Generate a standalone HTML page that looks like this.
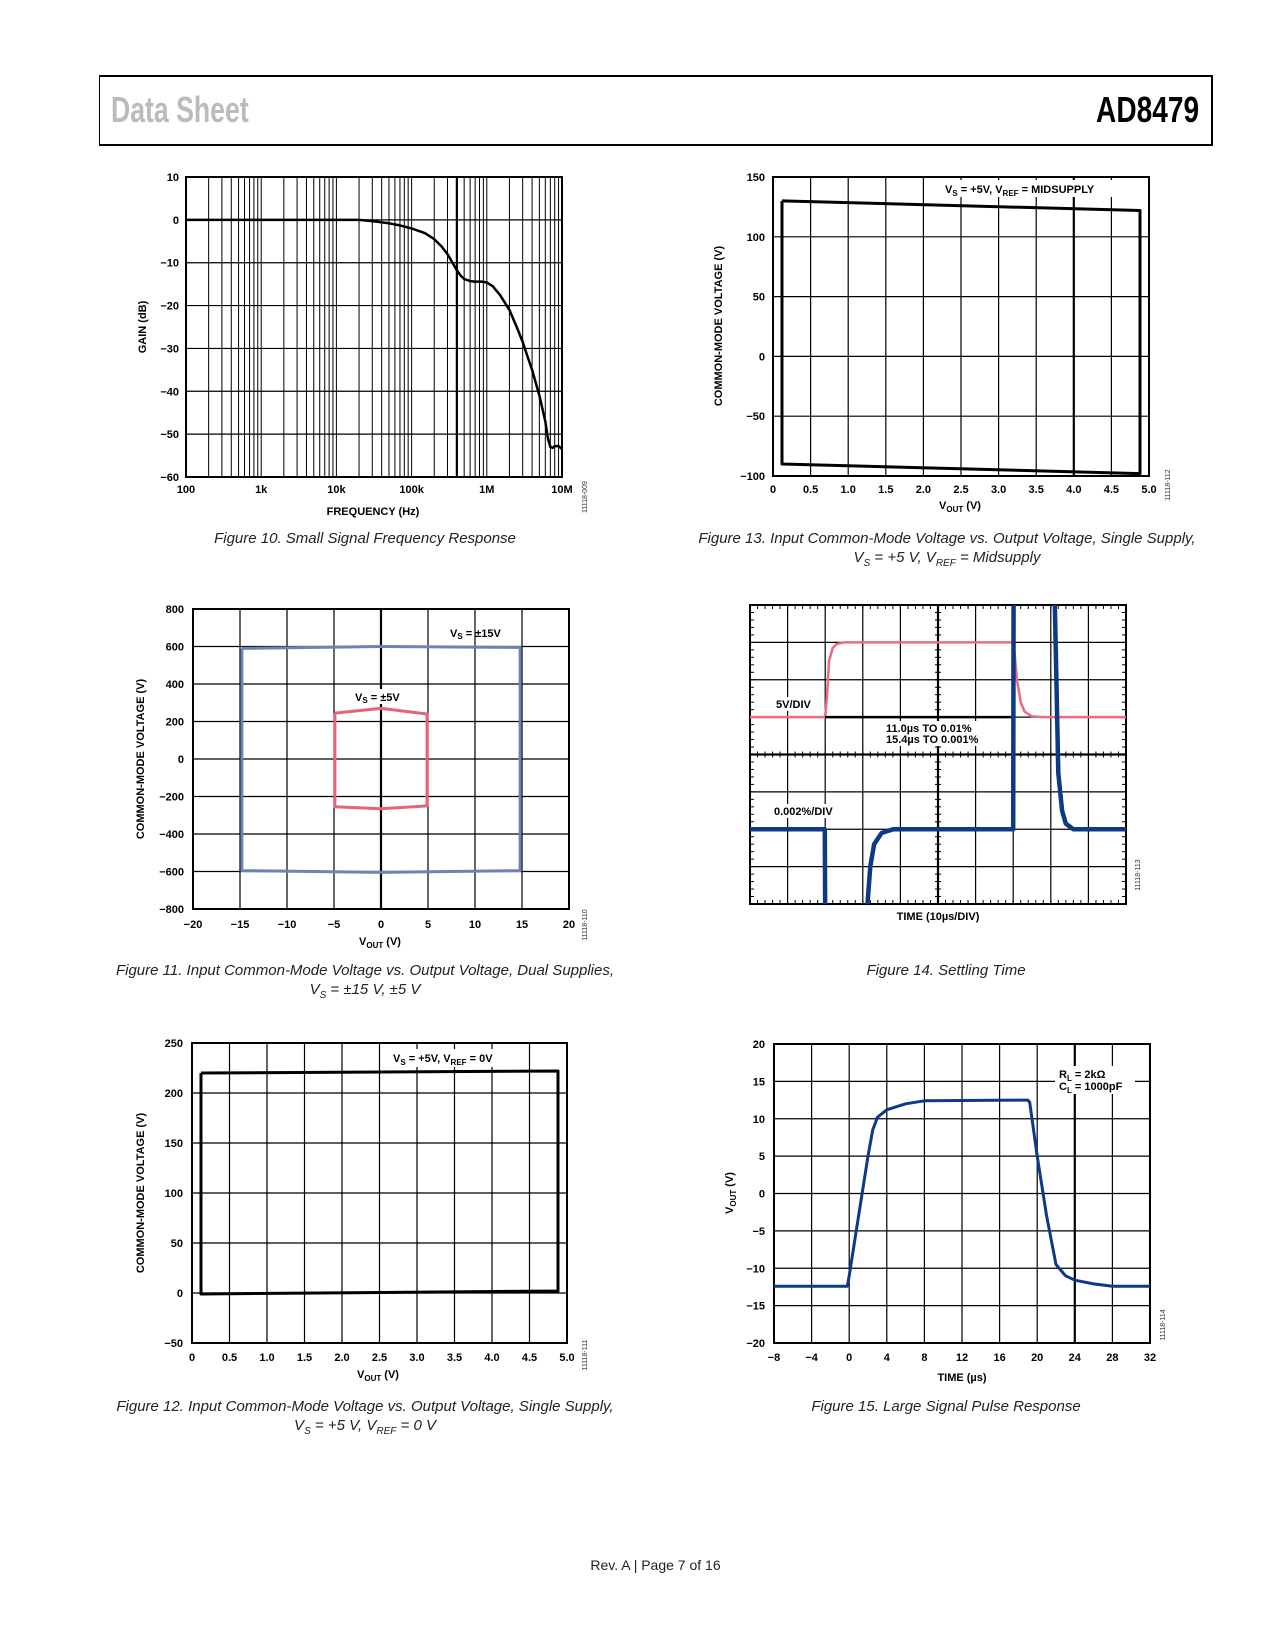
<!DOCTYPE html>
<html><head><meta charset="utf-8">
<style>
body{margin:0;background:#fff;}
#page{position:relative;width:1275px;height:1650px;background:#fff;font-family:"Liberation Sans",sans-serif;}
.cap{position:absolute;font-style:italic;font-size:15px;text-align:center;color:#222;line-height:19px;}
</style></head>
<body>
<div id="page">
<div style="position:absolute;left:99px;top:75px;width:1111px;height:67px;border:2px solid #000;border-left-width:1.5px;"></div>
<div style="position:absolute;left:111px;top:89px;font-size:36px;color:#bbb;font-weight:bold;transform:scaleX(0.74);transform-origin:left top;">Data Sheet</div>
<div style="position:absolute;right:76px;top:89px;font-size:36px;color:#000;font-weight:bold;transform:scaleX(0.78);transform-origin:right top;">AD8479</div>
<svg id="svg" width="1275" height="1650" style="position:absolute;left:0;top:0"></svg>
<div class="cap" style="left:165px;top:529px;width:400px;">Figure 10. Small Signal Frequency Response</div>
<div class="cap" style="left:697px;top:529px;width:500px;">Figure 13. Input Common-Mode Voltage vs. Output Voltage, Single Supply,<br>V<sub style="font-size:10px">S</sub> = +5 V, V<sub style="font-size:10px">REF</sub> = Midsupply</div>
<div class="cap" style="left:115px;top:961px;width:500px;">Figure 11. Input Common-Mode Voltage vs. Output Voltage, Dual Supplies,<br>V<sub style="font-size:10px">S</sub> = ±15 V, ±5 V</div>
<div class="cap" style="left:746px;top:961px;width:400px;">Figure 14. Settling Time</div>
<div class="cap" style="left:115px;top:1397px;width:500px;">Figure 12. Input Common-Mode Voltage vs. Output Voltage, Single Supply,<br>V<sub style="font-size:10px">S</sub> = +5 V, V<sub style="font-size:10px">REF</sub> = 0 V</div>
<div class="cap" style="left:746px;top:1397px;width:400px;">Figure 15. Large Signal Pulse Response</div>
<div style="position:absolute;left:18px;width:1275px;top:1557px;text-align:center;font-size:14px;color:#222;">Rev. A | Page 7 of 16</div>
</div>
<script>
// ---- Figure 10 data ----
const f10Freq=[100,300,1000,3000,10000,20000,30000,50000,70000,100000,150000,200000,250000,300000,350000,400000,450000,500000,600000,700000,850000,1000000,1200000,1500000,2000000,2500000,3000000,3500000,4000000,5000000,6000000,6500000,7000000,7500000,8000000,9000000,10000000];
const f10Gain=[0,0,0,0,0,0,-0.3,-0.8,-1.3,-2,-3.1,-4.5,-6.2,-8,-10,-11.8,-13,-13.8,-14.3,-14.4,-14.4,-14.6,-15.5,-17.5,-21,-25,-28.5,-32,-35,-41,-47,-51,-53,-53.2,-52.8,-52.8,-53.5];
const f10YTicks=[10,0,-10,-20,-30,-40,-50,-60];
const f10XTicks=["100","1k","10k","100k","1M","10M"];
// ---- Figure 13 data ----
const f13X=[0.12,4.88,4.88,0.12,0.12];
const f13Y=[130,122,-98,-90,130];
const f13XTicks=["0","0.5","1.0","1.5","2.0","2.5","3.0","3.5","4.0","4.5","5.0"];
const f13YTicks=[150,100,50,0,-50,-100];
// ---- Figure 11 data ----
const f11BlueX=[-14.8,0,14.8,14.8,0,-14.8,-14.8];
const f11BlueY=[590,600,595,-595,-605,-595,590];
const f11PinkX=[-4.9,0,4.9,4.9,0,-4.9,-4.9];
const f11PinkY=[245,270,240,-250,-265,-255,245];
const f11XTicks=[-20,-15,-10,-5,0,5,10,15,20];
const f11YTicks=[800,600,400,200,0,-200,-400,-600,-800];
// ---- Figure 12 data ----
const f12X=[0.12,4.88,4.88,0.12,0.12];
const f12Y=[220,222,2,-1,220];
const f12YTicks=[250,200,150,100,50,0,-50];
// ---- Figure 14 data (time µs, divisions) ----
const f14PinkT=[0,20,20.5,21,22,23,25,70,70.3,71,72,73,75,78,100];
const f14PinkV=[1,1,1.6,2.5,2.85,2.95,3,3,2.8,2,1.4,1.15,1.02,1,1];
const f14BlueT1=[0,19.9,20];
const f14BlueV1=[-2,-2,-4.3];
const f14BlueT2=[31,32,33,35,38,70,70.1];
const f14BlueV2=[-4.3,-3,-2.4,-2.1,-2,-2,4.3];
const f14BlueT3=[81,81.5,82,83,84,86,100];
const f14BlueV3=[4.3,2,-0.5,-1.5,-1.85,-2,-2];
// ---- Figure 15 data ----
const f15T=[-8,-0.2,0,1,2,2.5,3,4,6,8,19,19.2,20,21,22,23,24,26,28,32];
const f15V=[-12.4,-12.4,-11,-3,5,8.5,10.2,11.2,12,12.4,12.5,12.2,5,-3,-9.5,-11,-11.6,-12.1,-12.4,-12.4];
const f15XTicks=[-8,-4,0,4,8,12,16,20,24,28,32];
const f15YTicks=[20,15,10,5,0,-5,-10,-15,-20];

const NS="http://www.w3.org/2000/svg";
const svg=document.getElementById('svg');
function mk(tag,attrs,parent){const e=document.createElementNS(NS,tag);for(const k in attrs)e.setAttribute(k,attrs[k]);(parent||svg).appendChild(e);return e;}
function txt(x,y,s,anchor,parent,size,rot){const t=mk('text',{x:x,y:y,'text-anchor':anchor||'middle','font-size':size||11,'font-weight':'bold','font-family':'Liberation Sans, sans-serif',fill:'#000'},parent);if(rot)t.setAttribute('transform','rotate(-90 '+x+' '+y+')');t.textContent=s;return t;}
function lin(a0,a1,p0,p1){return v=>p0+(v-a0)/(a1-a0)*(p1-p0);}
function poly(xs,ys,sx,sy,stroke,w,parent){let d='';for(let i=0;i<xs.length;i++)d+=(i?'L':'M')+sx(xs[i]).toFixed(1)+' '+sy(ys[i]).toFixed(1);return mk('path',{d:d,fill:'none',stroke:stroke,'stroke-width':w,'stroke-linejoin':'round'},parent);}
function grid(g,L,T,R,B,nx,ny){for(let i=1;i<nx;i++){const x=L+(R-L)*i/nx;mk('line',{x1:x,y1:T,x2:x,y2:B,stroke:'#000','stroke-width':1.2},g);}for(let j=1;j<ny;j++){const y=T+(B-T)*j/ny;mk('line',{x1:L,y1:y,x2:R,y2:y,stroke:'#000','stroke-width':1.2},g);}mk('rect',{x:L,y:T,width:R-L,height:B-T,fill:'none',stroke:'#000','stroke-width':2},g);}
function idtxt(x,y,s,g){const t=mk('text',{x:x,y:y,'text-anchor':'middle','font-size':7,'font-family':'Liberation Sans, sans-serif',fill:'#333',transform:'rotate(-90 '+x+' '+y+')'},g);t.textContent=s;}

// ===== Figure 10 =====
(function(){
const g=mk('g',{});
const L=186,T=177,R=562,B=477;
const sx=f=>L+(Math.log10(f)-2)/5*(R-L);const sy=lin(10,-60,T,B);
for(let d=2;d<7;d++)for(let m=1;m<10;m++){const x=sx(m*Math.pow(10,d));if(m>1||d>2)mk('line',{x1:x,y1:T,x2:x,y2:B,stroke:'#000','stroke-width':(m===4&&d===5)?2.2:1},g);}
f10YTicks.forEach(v=>{mk('line',{x1:L,y1:sy(v),x2:R,y2:sy(v),stroke:'#000','stroke-width':1.2},g);txt(179,sy(v)+4,v<0?'\u2212'+(-v):''+v,'end',g);});
mk('rect',{x:L,y:T,width:R-L,height:B-T,fill:'none',stroke:'#000','stroke-width':2},g);
f10XTicks.forEach((s,i)=>txt(L+i*(R-L)/5,493,s,'middle',g));
const c=poly(f10Freq,f10Gain,sx,sy,'#000',2.5,g);
txt(373,515,'FREQUENCY (Hz)','middle',g);
txt(146,327,'GAIN (dB)','middle',g,11,true);
idtxt(587,497,'11118-009',g);
})();

// ===== Figure 13 =====
(function(){
const g=mk('g',{});
const L=773,T=177,R=1149,B=476;
const sx=lin(0,5,L,R),sy=lin(150,-100,T,B);
grid(g,L,T,R,B,10,5);
mk('line',{x1:sx(4),y1:T,x2:sx(4),y2:B,stroke:'#000','stroke-width':2.2},g);
f13YTicks.forEach(v=>txt(765,sy(v)+4,v<0?'\u2212'+(-v):''+v,'end',g));
f13XTicks.forEach((s,i)=>txt(L+i*(R-L)/10,493,s,'middle',g));
mk('rect',{x:940,y:180,width:180,height:17,fill:'#fff'},g);
const t=txt(945,193,'','start',g);t.innerHTML='V<tspan font-size="8" dy="3">S</tspan><tspan dy="-3"> = +5V, V</tspan><tspan font-size="8" dy="3">REF</tspan><tspan dy="-3"> = MIDSUPPLY</tspan>';
const c=poly(f13X,f13Y,sx,sy,'#000',3,g);
const a=txt(960,509,'','middle',g);a.innerHTML='V<tspan font-size="8" dy="3">OUT</tspan><tspan dy="-3"> (V)</tspan>';
txt(722,326,'COMMON-MODE VOLTAGE (V)','middle',g,11,true);
idtxt(1170,485,'11118-112',g);
})();

// ===== Figure 11 =====
(function(){
const g=mk('g',{});
const L=193,T=609,R=569,B=909;
const sx=lin(-20,20,L,R),sy=lin(800,-800,T,B);
grid(g,L,T,R,B,8,8);
mk('line',{x1:sx(0),y1:T,x2:sx(0),y2:B,stroke:'#000','stroke-width':2.2},g);
f11YTicks.forEach(v=>txt(184,sy(v)+4,v<0?'\u2212'+(-v):''+v,'end',g));
f11XTicks.forEach(v=>txt(sx(v),928,v<0?'\u2212'+(-v):''+v,'middle',g));
const b=poly(f11BlueX,f11BlueY,sx,sy,'#6b84b4',3,g);
const p=poly(f11PinkX,f11PinkY,sx,sy,'#e8627c',3,g);
let t=txt(450,637,'','start',g);t.innerHTML='V<tspan font-size="8" dy="2">S</tspan><tspan dy="-2"> = ±15V</tspan>';
mk('rect',{x:352,y:689,width:58,height:15,fill:'#fff'},g);
t=txt(355,701,'','start',g);t.innerHTML='V<tspan font-size="8" dy="2">S</tspan><tspan dy="-2"> = ±5V</tspan>';
const a=txt(380,945,'','middle',g);a.innerHTML='V<tspan font-size="8" dy="3">OUT</tspan><tspan dy="-3"> (V)</tspan>';
txt(144,759,'COMMON-MODE VOLTAGE (V)','middle',g,11,true);
idtxt(587,925,'11118-110',g);
})();

// ===== Figure 12 =====
(function(){
const g=mk('g',{});
const L=192,T=1043,R=567,B=1343;
const sx=lin(0,5,L,R),sy=lin(250,-50,T,B);
grid(g,L,T,R,B,10,6);
f12YTicks.forEach(v=>txt(183,sy(v)+4,v<0?'\u2212'+(-v):''+v,'end',g));
f13XTicks.forEach((s,i)=>txt(L+i*(R-L)/10,1361,s,'middle',g));
mk('rect',{x:385,y:1049,width:135,height:18,fill:'#fff'},g);
const t=txt(393,1062,'','start',g);t.innerHTML='V<tspan font-size="8" dy="3">S</tspan><tspan dy="-3"> = +5V, V</tspan><tspan font-size="8" dy="3">REF</tspan><tspan dy="-3"> = 0V</tspan>';
const c=poly(f12X,f12Y,sx,sy,'#000',3,g);
const a=txt(378,1378,'','middle',g);a.innerHTML='V<tspan font-size="8" dy="3">OUT</tspan><tspan dy="-3"> (V)</tspan>';
txt(144,1193,'COMMON-MODE VOLTAGE (V)','middle',g,11,true);
idtxt(587,1355,'11118-111',g);
})();

// ===== Figure 14 =====
(function(){
const g=mk('g',{});
const L=750,T=605,R=1126,B=904;
const sx=lin(0,100,L,R),sy=lin(4,-4,T,B);
grid(g,L,T,R,B,10,8);
const cx=(L+R)/2,cy=(T+B)/2;
mk('line',{x1:cx,y1:T,x2:cx,y2:B,stroke:'#000','stroke-width':2.2},g);
mk('line',{x1:L,y1:cy,x2:R,y2:cy,stroke:'#000','stroke-width':2.2},g);
for(let i=0;i<=50;i++){const x=L+(R-L)*i/50;[[T,T+4],[B-4,B],[cy-3,cy+3]].forEach(p=>mk('line',{x1:x,y1:p[0],x2:x,y2:p[1],stroke:'#000','stroke-width':1},g));}
for(let j=0;j<=40;j++){const y=T+(B-T)*j/40;[[L,L+4],[R-4,R],[cx-3,cx+3]].forEach(p=>mk('line',{x1:p[0],y1:y,x2:p[1],y2:y,stroke:'#000','stroke-width':1},g));}
mk('rect',{x:774,y:697,width:48,height:14,fill:'#fff'},g);
mk('rect',{x:772,y:804,width:82,height:14,fill:'#fff'},g);
mk('rect',{x:883,y:721,width:112,height:25,fill:'#fff'},g);
const p=poly(f14PinkT,f14PinkV,sx,sy,'#ec6a82',2.5,g);
mk('line',{x1:sx(20),y1:sy(1),x2:sx(70),y2:sy(1),stroke:'#000','stroke-width':2.5},g);
const cl=mk('clipPath',{id:'c14'},g);mk('rect',{x:L,y:T,width:R-L,height:B-T},cl);
const gc=mk('g',{'clip-path':'url(#c14)'},g);
[[f14BlueT1,f14BlueV1],[f14BlueT2,f14BlueV2],[f14BlueT3,f14BlueV3]].forEach(s=>{const b=poly(s[0],s[1],sx,sy,'#0d3a85',4.5,gc);});
txt(776,708,'5V/DIV','start',g);
txt(774,815,'0.002%/DIV','start',g);
txt(886,732,'11.0µs TO 0.01%','start',g);
txt(886,743,'15.4µs TO 0.001%','start',g);
txt(938,920,'TIME (10µs/DIV)','middle',g);
idtxt(1140,875,'11118-113',g);
})();

// ===== Figure 15 =====
(function(){
const g=mk('g',{});
const L=774,T=1044,R=1150,B=1343;
const sx=lin(-8,32,L,R),sy=lin(20,-20,T,B);
grid(g,L,T,R,B,10,8);
mk('line',{x1:sx(24),y1:T,x2:sx(24),y2:B,stroke:'#000','stroke-width':2.2},g);
f15YTicks.forEach(v=>txt(765,sy(v)+4,v<0?'\u2212'+(-v):''+v,'end',g));
f15XTicks.forEach(v=>txt(sx(v),1361,v<0?'\u2212'+(-v):''+v,'middle',g));
mk('rect',{x:1055,y:1066,width:80,height:28,fill:'#fff'},g);
let t=txt(1059,1078,'','start',g);t.innerHTML='R<tspan font-size="8" dy="3">L</tspan><tspan dy="-3"> = 2kΩ</tspan>';
t=txt(1059,1090,'','start',g);t.innerHTML='C<tspan font-size="8" dy="3">L</tspan><tspan dy="-3"> = 1000pF</tspan>';
const c=poly(f15T,f15V,sx,sy,'#0d3a85',3,g);
txt(962,1381,'TIME (µs)','middle',g);
const a=txt(733,1193,'','middle',g,11,true);a.innerHTML='V<tspan font-size="8" dy="3">OUT</tspan><tspan dy="-3"> (V)</tspan>';
idtxt(1165,1325,'11118-114',g);
})();
</script>
</body></html>
